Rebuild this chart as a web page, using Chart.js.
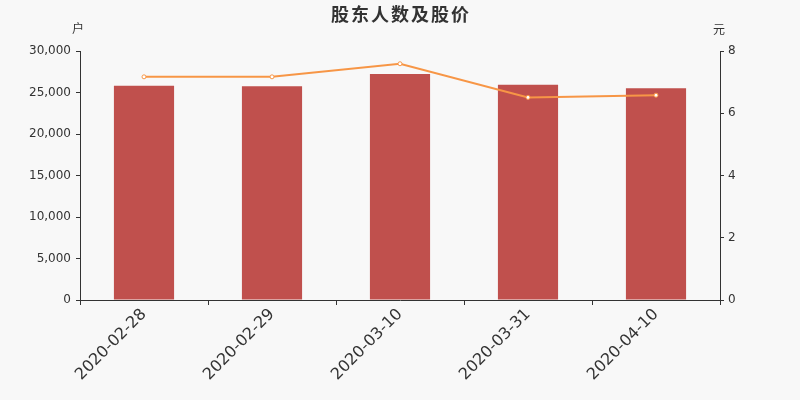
<!DOCTYPE html>
<html>
<head>
<meta charset="utf-8">
<script src="https://cdn.jsdelivr.net/npm/chart.js@4"></script>
<style>
  html, body { margin: 0; padding: 0; background: #f8f8f8; }
  #wrap { width: 800px; height: 400px; }
</style>
</head>
<body>
<div id="wrap"><canvas id="c"></canvas></div>
<script>
// 資料
const dates = ['2020-02-28', '2020-02-29', '2020-03-10', '2020-03-31', '2020-04-10'];
const holders = [25800, 25760, 27240, 25920, 25520]; // 股东人数 (户)
const prices = [7.17, 7.17, 7.59, 6.51, 6.58];      // 股价 (元)
const leftTicks = [0, 5000, 10000, 15000, 20000, 25000, 30000];
const rightTicks = [0, 2, 4, 6, 8];

const txt = '#333';
const tickFont = { family: 'DejaVu Sans', size: 12 };

// 標題與單位
const textPlugin = {
  id: 'texts',
  afterDraw(chart) {
    const c = chart.ctx;
    const a = chart.chartArea;
    c.save();
    c.fillStyle = txt;
    c.textAlign = 'center';
    c.textBaseline = 'middle';
    c.font = 'bold 18px "Noto Sans CJK SC"';
    c.letterSpacing = '2px';
    c.fillText('股东人数及股价', 401, 14);
    c.letterSpacing = '0px';
    c.font = '12px "Noto Sans CJK SC"';
    c.fillText('户', a.left - 2, 28);
    c.fillText('元', a.right - 1, 29);
    c.restore();
  }
};

const config = {
  data: {
    labels: dates,
    datasets: [
      {
        type: 'line',
        label: '股价',
        data: prices,
        yAxisID: 'y1',
        borderColor: '#f79646',
        backgroundColor: '#ffffff',
        borderWidth: 2,
        pointRadius: 2,
        pointBorderWidth: 1,
        pointBorderColor: '#f79646',
        pointBackgroundColor: '#ffffff',
        tension: 0,
        order: 0
      },
      {
        type: 'bar',
        label: '股东人数',
        data: holders,
        yAxisID: 'y',
        backgroundColor: '#c0504d',
        categoryPercentage: 1,
        barPercentage: 0.47,
        order: 1
      }
    ]
  },
  options: {
    responsive: true,
    maintainAspectRatio: false,
    animation: false,
    layout: { padding: { top: 51, left: 0, right: 0, bottom: 0 } },
    plugins: {
      legend: { display: false },
      title: { display: false },
      tooltip: { enabled: false }
    },
    scales: {
      x: {
        offset: true,
        grid: { display: true, drawOnChartArea: false, offset: true, tickLength: 5, color: txt },
        border: { color: txt, width: 1 },
        ticks: { color: txt, font: { family: 'DejaVu Sans', size: 16 }, maxRotation: 45, minRotation: 45, padding: 0 },
        afterFit(s) { s.height = 100; }
      },
      y: {
        position: 'left',
        min: 0, max: 30000,
        afterBuildTicks(s) { s.ticks = leftTicks.map(v => ({ value: v })); },
        grid: { drawOnChartArea: false, tickLength: 4, color: txt },
        border: { color: txt, width: 1 },
        ticks: {
          color: txt, font: tickFont, padding: 5,
          callback: v => v.toLocaleString('en-US')
        },
        afterFit(s) { s.width = 80; }
      },
      y1: {
        position: 'right',
        min: 0, max: 8,
        afterBuildTicks(s) { s.ticks = rightTicks.map(v => ({ value: v })); },
        grid: { drawOnChartArea: false, tickLength: 4, color: txt },
        border: { color: txt, width: 1 },
        ticks: { color: txt, font: tickFont, padding: 4 },
        afterFit(s) { s.width = 80; }
      }
    }
  },
  plugins: [textPlugin]
};

new Chart(document.getElementById('c'), config);
</script>
</body>
</html>
